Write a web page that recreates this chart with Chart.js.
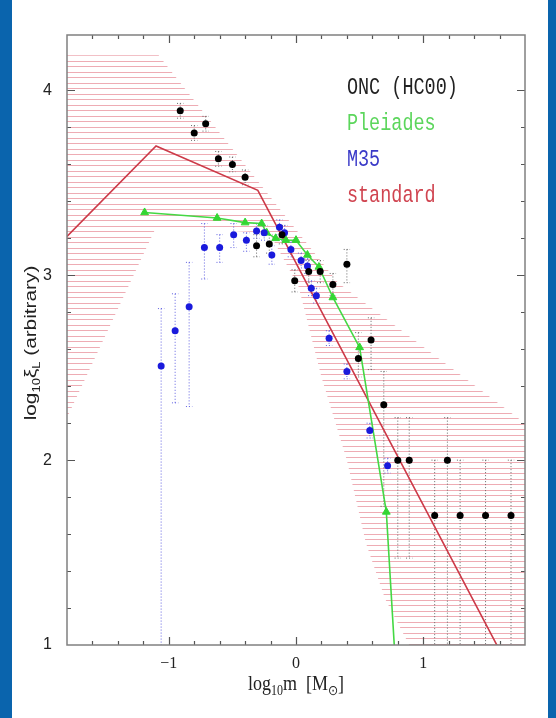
<!DOCTYPE html>
<html>
<head>
<meta charset="utf-8">
<script src="https://cdn.jsdelivr.net/npm/chart.js@4.4.1/dist/chart.umd.min.js"></script>
<style>
    body { margin: 0; background: #0a64ad; }
    #wrap { position: absolute; left: 12px; top: 0; width: 536px; height: 718px; background: #fff; }
</style>
</head>
<body>
<div id="wrap"><canvas id="imfChart"></canvas></div>
<script>
// ONC (HC00) — black dots with dotted error bars
const oncMass  = [-0.91, -0.80, -0.71, -0.61, -0.50, -0.40, -0.31, -0.21, -0.11, -0.01, 0.10, 0.19, 0.29, 0.40, 0.49, 0.59, 0.69, 0.80, 0.89, 1.09, 1.19, 1.29, 1.49, 1.69];
const oncLogXi = [3.89, 3.77, 3.82, 3.63, 3.60, 3.53, 3.16, 3.17, 3.22, 2.97, 3.02, 3.02, 2.95, 3.06, 2.55, 2.65, 2.30, 2.00, 2.00, 1.70, 2.00, 1.70, 1.70, 1.70];
const oncErrHi = [3.93, 3.81, 3.86, 3.67, 3.64, 3.57, 3.22, 3.22, 3.27, 3.03, 3.08, 3.08, 3.01, 3.14, 2.69, 2.77, 2.48, 2.23, 2.23, 2.00, 2.23, 2.00, 2.00, 2.00];
const oncErrLo = [3.85, 3.73, 3.78, 3.59, 3.56, 3.49, 3.10, 3.12, 3.17, 2.91, 2.96, 2.96, 2.89, 2.96, 2.45, 2.49, 1.75, 1.47, 1.47, 0.50, 0.50, 0.50, 0.50, 0.50];

// M35 — blue dots
const m35Mass  = [-1.06, -0.95, -0.84, -0.72, -0.60, -0.49, -0.39, -0.31, -0.25, -0.19, -0.13, -0.09, -0.04, 0.04, 0.09, 0.12, 0.16, 0.26, 0.40, 0.58, 0.72];
const m35LogXi = [2.51, 2.70, 2.83, 3.15, 3.15, 3.22, 3.19, 3.24, 3.23, 3.11, 3.26, 3.23, 3.14, 3.08, 3.05, 2.93, 2.89, 2.66, 2.48, 2.16, 1.97];
const m35ErrHi = [2.82, 2.90, 3.07, 3.28, 3.22, 3.28, 3.23, 3.28, 3.27, 3.16, 3.30, 3.27, 3.18, 3.12, 3.09, 2.97, 2.93, 2.70, 2.52, 2.20, 2.01];
const m35ErrLo = [0.50, 2.31, 2.29, 2.98, 3.07, 3.15, 3.13, 3.20, 3.19, 3.06, 3.22, 3.19, 3.10, 3.04, 3.01, 2.89, 2.85, 2.62, 2.44, 2.12, 1.93];

// Pleiades — green triangles joined by a line (last point lies below the axis)
const pleMass  = [-1.19, -0.62, -0.40, -0.27, -0.23, -0.16, -0.08, 0.00, 0.09, 0.18, 0.29, 0.50, 0.71, 0.80];
const pleLogXi = [3.34, 3.31, 3.285, 3.28, 3.23, 3.20, 3.19, 3.19, 3.11, 3.045, 2.88, 2.61, 1.72, 0.68];

// standard IMF — red broken power law
const stdMass  = [-1.8, -1.1, -0.3, 1.8];
const stdLogXi = [3.21, 3.70, 3.46, 0.71];

// uncertainty band (hatched)
const bandUpperMass  = [-1.8, -1.08, 0.33, 1.8];
const bandUpperLogXi = [4.19, 4.19, 2.96, 2.20];
const bandLowerMass  = [-1.8, -1.1, -0.21, 0.02, 0.20, 0.40, 0.55, 0.70, 0.89, 1.8];
const bandLowerLogXi = [2.23, 3.26, 3.23, 2.94, 2.45, 2.00, 1.55, 1.25, 1.00, 1.00];

const seriesNames = ['ONC (HC00)', 'Pleiades', 'M35', 'standard'];
const xMajorTicks = [-1, 0, 1];
const xTickText = ['\u22121', '0', '1'];
const yMajorTicks = [1, 2, 3, 4];
const yTickText = ['1', '2', '3', '4'];

const toPoints = (xs, ys) => xs.map((x, i) => ({ x, y: ys[i] }));

// vertical bar plus small caps, separated by gaps
const errorBars = (xs, lo, hi) => {
    const cap = 0.025;
    const pts = [];
    xs.forEach((x, i) => {
        pts.push({ x: x - cap, y: hi[i] }, { x: x + cap, y: hi[i] }, { x, y: null });
        pts.push({ x, y: hi[i] }, { x, y: lo[i] }, { x, y: null });
        pts.push({ x: x - cap, y: lo[i] }, { x: x + cap, y: lo[i] }, { x, y: null });
    });
    return pts;
};

const labelFor = (v, ticks, text) => {
    const i = ticks.findIndex(t => Math.abs(t - v) < 1e-6);
    return i >= 0 ? text[i] : '';
};

// horizontal-line hatch pattern
const hatchCanvas = document.createElement('canvas');
hatchCanvas.width = 8;
hatchCanvas.height = 11;
const hctx = hatchCanvas.getContext('2d');
hctx.fillStyle = 'rgba(222, 90, 105, 0.5)';
hctx.fillRect(0, 0, 8, 1);
hctx.fillRect(0, 6, 8, 1);
const hatch = hctx.createPattern(hatchCanvas, 'repeat');

// frame + inward ticks on all four sides
const frameTicks = {
    id: 'frameTicks',
    afterDatasetsDraw(chart) {
        const { ctx, chartArea: a, scales: { x, y } } = chart;
        ctx.save();
        ctx.strokeStyle = '#555';
        ctx.lineWidth = 1.2;
        ctx.beginPath();
        x.ticks.forEach(t => {
            if (t.value <= x.min + 1e-6 || t.value >= x.max - 1e-6) return;
            const px = Math.round(x.getPixelForValue(t.value)) + 0.5;
            const len = Math.abs(t.value - Math.round(t.value)) < 1e-6 ? 8 : 4;
            ctx.moveTo(px, a.bottom); ctx.lineTo(px, a.bottom - len);
            ctx.moveTo(px, a.top); ctx.lineTo(px, a.top + len);
        });
        y.ticks.forEach(t => {
            if (t.value <= y.min + 1e-6 || t.value >= y.max - 1e-6) return;
            const py = Math.round(y.getPixelForValue(t.value)) + 0.5;
            const len = Math.abs(t.value - Math.round(t.value)) < 1e-6 ? 8 : 4;
            ctx.moveTo(a.left, py); ctx.lineTo(a.left + len, py);
            ctx.moveTo(a.right, py); ctx.lineTo(a.right - len, py);
        });
        ctx.stroke();
        ctx.strokeStyle = '#808080';
        ctx.lineWidth = 1.5;
        ctx.strokeRect(a.left, a.top, a.right - a.left, a.bottom - a.top);
        ctx.restore();
    }
};

// text key in the upper right of the plot
const keyText = {
    id: 'keyText',
    afterDatasetsDraw(chart) {
        const { ctx, scales: { x, y } } = chart;
        const colors = ['#222222', '#5cd65c', '#3a3ac8', '#d04450'];
        const left = x.getPixelForValue(0.40);
        const top = y.getPixelForValue(3.98);
        ctx.save();
        ctx.font = '18.5px "Liberation Mono", monospace';
        ctx.textBaseline = 'alphabetic';
        seriesNames.forEach((name, i) => {
            ctx.save();
            ctx.translate(left, top + i * 36);
            ctx.scale(1, 1.3);
            ctx.fillStyle = colors[i];
            ctx.fillText(name, 0, 0);
            ctx.restore();
        });
        ctx.restore();
    }
};

// draws a run of text pieces, subscripts smaller and lowered
const drawPieces = (ctx, pieces, size, family) => {
    const subSize = Math.round(size * 0.65);
    const fontOf = p => (p.sub ? subSize : size) + 'px ' + family;
    let w = 0;
    pieces.forEach(p => { ctx.font = fontOf(p); w += ctx.measureText(p.t).width; });
    let cx = -w / 2;
    pieces.forEach(p => {
        ctx.font = fontOf(p);
        ctx.fillText(p.t, cx, p.sub ? size * 0.25 : 0);
        cx += ctx.measureText(p.t).width;
    });
};

const axisTitles = {
    id: 'axisTitles',
    afterDraw(chart) {
        const { ctx, chartArea: a, scales: { x } } = chart;
        ctx.save();
        ctx.fillStyle = '#222';
        ctx.textBaseline = 'alphabetic';
        // x title
        ctx.save();
        ctx.translate(x.getPixelForValue(0), 690);
        ctx.scale(1, 1.15);
        drawPieces(ctx, [
            { t: 'log' }, { t: '10', sub: true }, { t: 'm  [M' }, { t: '\u2299', sub: true }, { t: ']' }
        ], 18, '"Liberation Serif", serif');
        ctx.restore();
        // y title
        ctx.save();
        ctx.translate(24, 343);
        ctx.rotate(-Math.PI / 2);
        ctx.scale(1.3, 1);
        drawPieces(ctx, [
            { t: 'log' }, { t: '10', sub: true }, { t: '\u03BE' }, { t: 'L', sub: true }, { t: ' (arbitrary)' }
        ], 16, '"Liberation Sans", sans-serif');
        ctx.restore();
        ctx.restore();
    }
};

new Chart(document.getElementById('imfChart'), {
    type: 'scatter',
    data: {
        datasets: [
            {
                label: seriesNames[0],
                data: toPoints(oncMass, oncLogXi),
                pointRadius: 3.5,
                pointBackgroundColor: '#000',
                pointBorderWidth: 0
            },
            {
                label: seriesNames[2],
                data: toPoints(m35Mass, m35LogXi),
                pointRadius: 3.5,
                pointBackgroundColor: '#1a1adc',
                pointBorderWidth: 0
            },
            {
                label: seriesNames[1],
                data: toPoints(pleMass, pleLogXi),
                showLine: true,
                borderColor: '#44d844',
                borderWidth: 1.6,
                pointStyle: 'triangle',
                pointRadius: 4.5,
                pointBackgroundColor: '#33d633',
                pointBorderColor: '#33d633',
                pointBorderWidth: 1
            },
            {
                label: seriesNames[3],
                data: toPoints(stdMass, stdLogXi),
                showLine: true,
                borderColor: '#cc3a48',
                borderWidth: 1.6,
                pointRadius: 0
            },
            {
                label: 'ONC errors',
                data: errorBars(oncMass, oncErrLo, oncErrHi),
                showLine: true,
                spanGaps: false,
                borderColor: '#666',
                borderWidth: 1,
                borderDash: [1, 2],
                pointRadius: 0
            },
            {
                label: 'M35 errors',
                data: errorBars(m35Mass, m35ErrLo, m35ErrHi),
                showLine: true,
                spanGaps: false,
                borderColor: '#6060e0',
                borderWidth: 1,
                borderDash: [1, 2],
                pointRadius: 0
            },
            {
                label: 'band upper',
                data: toPoints(bandUpperMass, bandUpperLogXi),
                showLine: true,
                borderWidth: 0,
                borderColor: 'transparent',
                pointRadius: 0,
                fill: '+1',
                backgroundColor: hatch
            },
            {
                label: 'band lower',
                data: toPoints(bandLowerMass, bandLowerLogXi),
                showLine: true,
                borderWidth: 0,
                borderColor: 'transparent',
                pointRadius: 0
            }
        ]
    },
    options: {
        responsive: true,
        maintainAspectRatio: false,
        animation: false,
        layout: { padding: { left: 0, right: 23, top: 35, bottom: 0 } },
        plugins: {
            legend: { display: false },
            tooltip: { enabled: false }
        },
        scales: {
            x: {
                type: 'linear',
                min: -1.8,
                max: 1.8,
                afterFit: s => { s.height = 73; },
                grid: { display: false, drawTicks: false },
                border: { display: false },
                ticks: {
                    stepSize: 0.2,
                    autoSkip: false,
                    maxRotation: 0,
                    padding: 9,
                    color: '#222',
                    font: { family: '"Liberation Serif", serif', size: 16 },
                    callback: v => labelFor(v, xMajorTicks, xTickText)
                }
            },
            y: {
                type: 'linear',
                min: 1,
                max: 4.3,
                afterFit: s => { s.width = 55; },
                grid: { display: false, drawTicks: false },
                border: { display: false },
                ticks: {
                    stepSize: 0.2,
                    autoSkip: false,
                    padding: 15,
                    color: '#222',
                    font: { family: '"Liberation Sans", sans-serif', size: 16 },
                    callback: v => labelFor(v, yMajorTicks, yTickText)
                }
            }
        }
    },
    plugins: [frameTicks, keyText, axisTitles]
});
</script>
</body>
</html>
